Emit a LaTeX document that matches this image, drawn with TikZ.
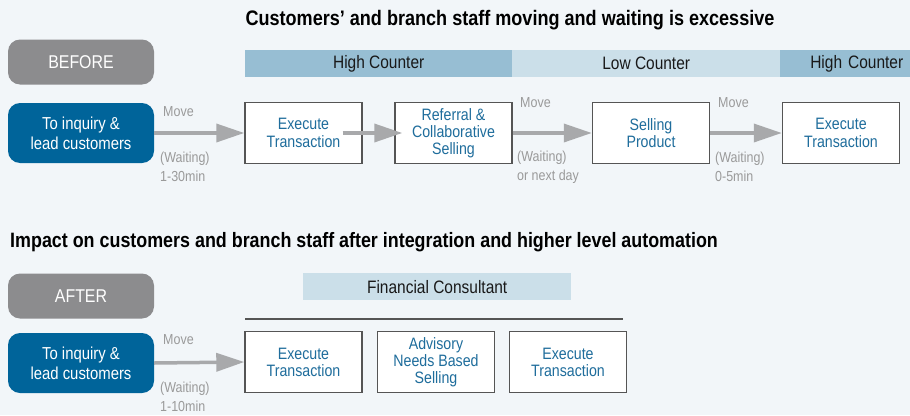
\documentclass[tikz,border=0pt]{standalone}
\usepackage{fontspec}
\setmainfont{Liberation Sans}[FakeStretch=0.86]
\usetikzlibrary{arrows.meta}

\definecolor{paper}{HTML}{F2F6F9}
\definecolor{tagGray}{HTML}{8C8C8E}
\definecolor{startBlue}{HTML}{00649A}
\definecolor{stepBlue}{HTML}{1F6D9C}
\definecolor{boxLine}{HTML}{555555}
\definecolor{highBar}{HTML}{97BED3}
\definecolor{lowBar}{HTML}{CBDFE9}
\definecolor{arrowGray}{HTML}{A8A9AB}
\definecolor{noteGray}{HTML}{9A9A9A}

\begin{document}
\begin{tikzpicture}[x=1pt,y=-1pt]
\tikzset{pill/.style={rounded corners=12pt,minimum width=146pt,inner sep=0pt,text=white,align=center}}
\tikzset{tag/.style={pill,fill=tagGray,minimum height=45pt,font=\fontsize{18.5}{20}\selectfont}}
\tikzset{start/.style={pill,fill=startBlue,minimum height=60pt,font=\fontsize{17.3}{20}\selectfont}}
\tikzset{stepbox/.style={draw=boxLine,line width=1.4pt,fill=white,minimum width=117pt,minimum height=61pt,inner sep=0pt,align=center,text=stepBlue,font=\fontsize{16.5}{17.2}\selectfont}}
\tikzset{bar/.style={minimum height=27pt,inner sep=0pt,anchor=north west,text=black!90,font=\fontsize{18}{19}\selectfont}}
\tikzset{move/.style={line width=3.5pt,draw=arrowGray,-{Triangle[length=28pt,width=18pt]}}}
\tikzset{note/.style={inner sep=0pt,anchor=west,align=left,text=noteGray,font=\fontsize{14.5}{19}\selectfont}}
\tikzset{heading/.style={inner sep=0pt,text=black,font=\bfseries\fontsize{21}{22}\selectfont}}

\fill[paper] (0,0) rectangle (910,415);
\useasboundingbox (0,0) rectangle (910,415);

% before
\node[heading] (title1) at (510,20) {Customers’ and branch staff moving and waiting is excessive};
\node[tag] (before) at (81,62) {BEFORE};
\node[bar,fill=highBar,minimum width=267pt] (hc1) at (245,50) {High Counter};
\node[bar,fill=lowBar,minimum width=268pt] (lc) at (512,50) {Low Counter};
\node[bar,fill=highBar,minimum width=130pt,text width=116pt,inner xsep=7pt,align=right] (hc2) at (780,50) {High Counter};

\node[start] (start1) at (81,133) {To inquiry \&\\lead customers};
\node[stepbox] (ex1) at (303.5,133) {Execute\\Transaction};
\node[stepbox] (ref) at (453.5,133) {Referral \&\\Collaborative\\Selling};
\node[stepbox] (sell) at (651,133) {Selling\\Product};
\node[stepbox] (ex2) at (841,133) {Execute\\Transaction};

\draw[move] (start1.east) -- (ex1.west);
\draw[move] ([xshift=-20pt]ex1.east) -- ([xshift=8pt]ref.west);
\draw[move] (ref.east) -- (sell.west);
\draw[move] (sell.east) -- (ex2.west);

\node[note] (mv1) at (163,112) {Move};
\node[note] (wt1) at (160,167) {(Waiting)\\1-30min};
\node[note] (mv2) at (520,103) {Move};
\node[note] (wt2) at (517,167) {(Waiting)\\or next day};
\node[note] (mv3) at (718,103) {Move};
\node[note] (wt3) at (715,167) {(Waiting)\\0-5min};

% after
\node[heading,anchor=west,font=\bfseries\fontsize{20.8}{22}\selectfont] (title2) at (10,242) {Impact on customers and branch staff after integration and higher level automation};
\node[tag] (after) at (81,296) {AFTER};
\node[bar,fill=lowBar,minimum width=268pt] (fc) at (303,273) {Financial Consultant};
\coordinate (ruleL) at (245,319);
\coordinate (ruleR) at (623,319);
\draw[boxLine,line width=1.4pt] (ruleL) -- (ruleR);

\node[start] (start2) at (81,363) {To inquiry \&\\lead customers};
\node[stepbox] (ex3) at (303.5,362) {Execute\\Transaction};
\node[stepbox] (adv) at (436,362) {Advisory\\Needs Based\\Selling};
\node[stepbox] (ex4) at (568,362) {Execute\\Transaction};

\draw[move] (start2.east) -- (ex3.west);

\node[note] (mv4) at (163,340) {Move};
\node[note] (wt4) at (160,397) {(Waiting)\\1-10min};
\end{tikzpicture}
\end{document}
